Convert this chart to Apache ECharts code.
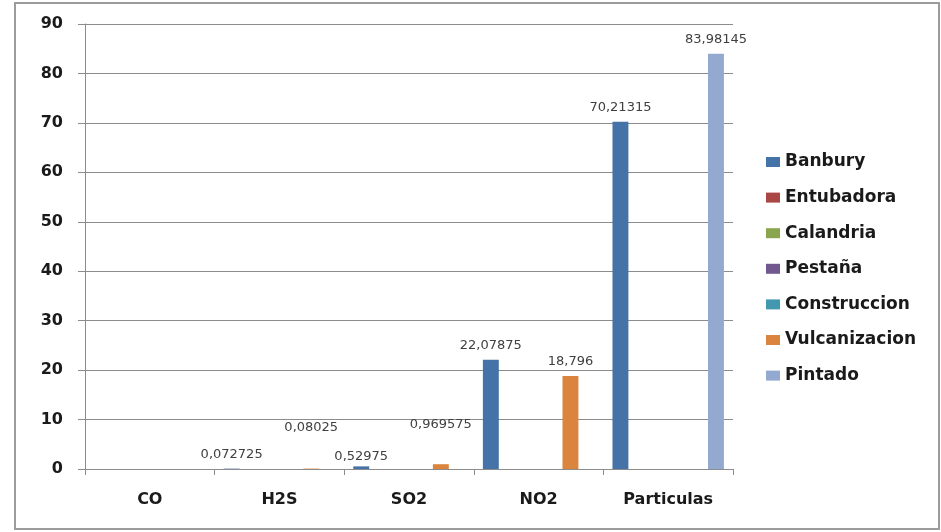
<!DOCTYPE html>
<html>
<head>
<meta charset="utf-8">
<title>Emisiones por área</title>
<script src="https://cdn.jsdelivr.net/npm/echarts@6/dist/echarts.min.js"></script>
<style>
  html, body { margin: 0; padding: 0; background: #ffffff; }
  #chart { width: 941px; height: 532px; }
</style>
</head>
<body>
<div id="chart"></div>
<script>
// Contaminantes medidos (eje de categorías)
const categories = ['CO', 'H2S', 'SO2', 'NO2', 'Particulas'];

// Concentración por área; null = sin medición
const banbury       = [null, 0.072725, 0.52975, 22.07875, 70.21315];
const entubadora    = [null, null, null, null, null];
const calandria     = [null, null, null, null, null];
const pestana       = [null, null, null, null, null];
const construccion  = [null, null, null, null, null];
const vulcanizacion = [null, 0.08025, 0.969575, 18.796, null];
const pintado       = [null, null, null, null, 83.98145];

const yTicks = { min: 0, max: 90, step: 10 };

const seriesDefs = [
  { name: 'Banbury',       data: banbury,       color: '#4572A7' },
  { name: 'Entubadora',    data: entubadora,    color: '#AA4643' },
  { name: 'Calandria',     data: calandria,     color: '#89A54E' },
  { name: 'Pestaña',       data: pestana,       color: '#71588F' },
  { name: 'Construccion',  data: construccion,  color: '#4198AF' },
  { name: 'Vulcanizacion', data: vulcanizacion, color: '#DB843D' },
  { name: 'Pintado',       data: pintado,       color: '#93A9CF' }
];

// Etiquetas pequeñas desplazadas para que no se encimen
const labelShift = {
  'Vulcanizacion|1': [0, -26],
  'Vulcanizacion|2': [0, -25],
  'Banbury|2': [0, 5]
};

const FONT = 'DejaVu Sans';

const series = seriesDefs.map(s => ({
  name: s.name,
  type: 'bar',
  barGap: '0%',
  barCategoryGap: '14%',
  itemStyle: { color: s.color },
  label: {
    show: true,
    position: 'top',
    distance: 8,
    fontFamily: FONT,
    fontSize: 13,
    color: '#404040',
    formatter: p => (p.value == null ? '' : String(p.value).replace('.', ','))
  },
  data: s.data.map((v, i) => {
    const off = labelShift[s.name + '|' + i];
    return off ? { value: v, label: { offset: off } } : v;
  })
}));

const chart = echarts.init(document.getElementById('chart'), null, { renderer: 'canvas' });
chart.setOption({
  animation: false,
  backgroundColor: '#ffffff',
  color: seriesDefs.map(s => s.color),
  graphic: [{
    type: 'rect',
    z: -10,
    shape: { x: 15, y: 3, width: 924, height: 526 },
    style: { fill: 'none', stroke: '#9c9c9c', lineWidth: 2 }
  }],
  grid: { left: 85, right: 208, top: 24, bottom: 63, containLabel: false },
  legend: {
    orient: 'vertical',
    left: 761,
    top: 148,
    icon: 'rect',
    itemWidth: 14,
    itemHeight: 10,
    itemGap: 17.6,
    textStyle: { fontFamily: FONT, fontWeight: 'bold', fontSize: 17, color: '#1a1a1a', lineHeight: 18 },
    data: seriesDefs.map(s => s.name)
  },
  xAxis: {
    type: 'category',
    data: categories,
    axisLine: { lineStyle: { color: '#8c8c8c', width: 1 } },
    axisTick: { show: true, length: 6, alignWithLabel: false, lineStyle: { color: '#8c8c8c' } },
    axisLabel: { margin: 23, fontFamily: FONT, fontWeight: 'bold', fontSize: 16, color: '#1a1a1a' }
  },
  yAxis: {
    type: 'value',
    min: yTicks.min,
    max: yTicks.max,
    interval: yTicks.step,
    axisLine: { show: true, lineStyle: { color: '#8c8c8c', width: 1 } },
    axisTick: { show: true, length: 7, lineStyle: { color: '#8c8c8c' } },
    splitLine: { show: true, lineStyle: { color: '#8c8c8c', width: 1 } },
    axisLabel: { margin: 22, fontFamily: FONT, fontWeight: 'bold', fontSize: 16, color: '#1a1a1a' }
  },
  series: series
});
</script>
</body>
</html>
